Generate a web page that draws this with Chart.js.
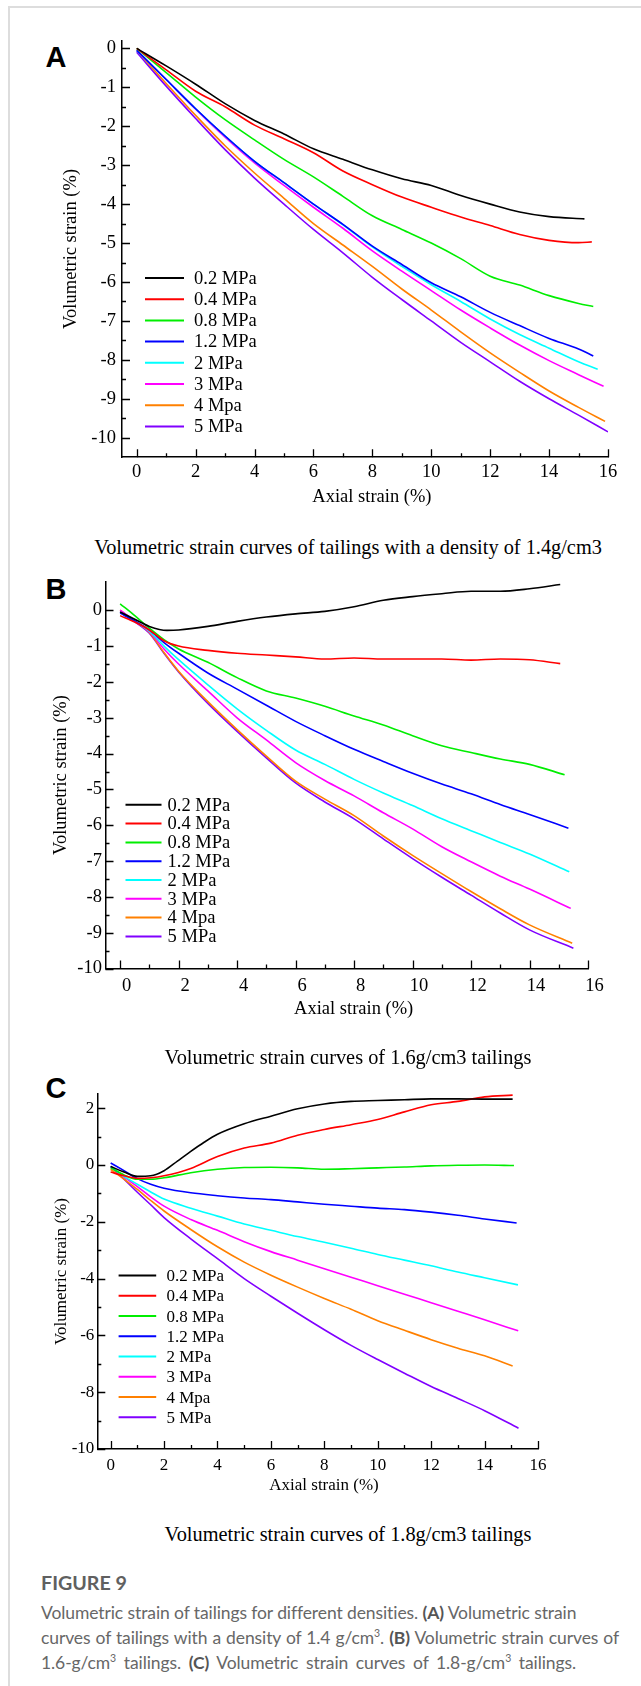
<!DOCTYPE html>
<html>
<head>
<meta charset="utf-8">
<script src="https://cdn.jsdelivr.net/npm/chart.js@4.4.1/dist/chart.umd.min.js"></script>
<style>
  body { margin: 0; background: #fff; }
  #page { position: relative; width: 641px; height: 1686px; overflow: hidden; }
  .frame { position: absolute; left: 8px; top: 6px; width: 700px; height: 1700px;
           border-top: 2px solid #dddddd; border-left: 2px solid #dddddd; }
  canvas { position: absolute; left: 0; }
  .letter { position: absolute; font: bold 29px "Liberation Sans", Arial, sans-serif;
            transform: translate(-50%, -50%); color: #000; }
  .cap { position: absolute; font: 18px "Liberation Serif", "Times New Roman", serif;
         white-space: nowrap; transform: translate(-50%, -50%); color: #000; }
  .fig { position: absolute; left: 41px; font-family: Lato, "Open Sans", sans-serif; color: #676767;
         white-space: nowrap; line-height: 1.2; }
  .fig b { color: #555; }
  sup { font-size: 60%; line-height: 0; }
</style>
</head>
<body>
<div id="page">
  <div class="frame"></div>

  <div class="letter" style="left:56px;top:57px">A</div>
  <canvas id="chartA" width="641" height="520" style="top:0px"></canvas>
  <div class="cap" id="capA" style="left:348px;top:547px">Volumetric strain curves of tailings with a density of 1.4g/cm3</div>

  <div class="letter" style="left:56px;top:589px">B</div>
  <canvas id="chartB" width="641" height="520" style="top:540px"></canvas>
  <div class="cap" id="capB" style="left:348px;top:1057px">Volumetric strain curves of 1.6g/cm3 tailings</div>

  <div class="letter" style="left:56px;top:1088px">C</div>
  <canvas id="chartC" width="641" height="440" style="top:1060px"></canvas>
  <div class="cap" id="capC" style="left:348px;top:1534px">Volumetric strain curves of 1.8g/cm3 tailings</div>

  <div class="fig" id="figTitle" style="top:1571px;font-size:20px;font-weight:bold;color:#606060">FIGURE 9</div>
  <div class="fig" id="fl1" style="top:1602px">Volumetric strain of tailings for different densities. <b>(A)</b> Volumetric strain</div>
  <div class="fig" id="fl2" style="top:1627px">curves of tailings with a density of 1.4 g/cm<sup>3</sup>. <b>(B)</b> Volumetric strain curves of</div>
  <div class="fig" id="fl3" style="top:1652px">1.6-g/cm<sup>3</sup> tailings. <b>(C)</b> Volumetric strain curves of 1.8-g/cm<sup>3</sup> tailings.</div>
</div>

<script>
const SERIF = '"Liberation Serif", "Times New Roman", serif';
Chart.defaults.font.family = SERIF;
Chart.defaults.color = '#000';

const pressures = ['0.2 MPa', '0.4 MPa', '0.8 MPa', '1.2 MPa', '2 MPa', '3 MPa', '4 Mpa', '5 MPa'];
const lineColors = ['#000000', '#ff0000', '#00ee00', '#0000ff', '#00ffff', '#ff00ff', '#ff8000', '#8000ff'];

const xTicks = [0, 2, 4, 6, 8, 10, 12, 14, 16];
const xMinor = [1, 3, 5, 7, 9, 11, 13, 15];
const yTicksAB = [0, -1, -2, -3, -4, -5, -6, -7, -8, -9, -10];
const yMinorAB = [-0.5, -1.5, -2.5, -3.5, -4.5, -5.5, -6.5, -7.5, -8.5, -9.5];
const yTicksC = [2, 0, -2, -4, -6, -8, -10];
const yMinorC = [1, -1, -3, -5, -7, -9];

// A: 1.4 g/cm3  [axial strain %, volumetric strain %]
const A_02 = [[0,0],[1,-0.45],[2,-0.92],[3,-1.42],[4,-1.85],[5,-2.2],[6,-2.58],[7,-2.85],[8,-3.12],[9,-3.35],[10,-3.52],[11,-3.78],[12,-4.0],[13,-4.2],[14,-4.32],[15.2,-4.38]];
const A_04 = [[0,0],[1,-0.55],[2,-1.1],[3,-1.5],[4,-1.97],[5,-2.32],[6,-2.68],[7,-3.15],[8,-3.5],[9,-3.82],[10,-4.08],[11,-4.33],[12,-4.55],[13,-4.78],[14,-4.93],[15,-4.99],[15.45,-4.97]];
const A_08 = [[0,0],[1,-0.62],[2,-1.25],[3,-1.83],[4,-2.35],[5,-2.85],[6,-3.3],[7,-3.8],[8,-4.3],[9,-4.65],[10,-5.0],[11,-5.4],[12,-5.85],[13,-6.08],[14,-6.35],[15,-6.55],[15.5,-6.63]];
const A_12 = [[0,-0.05],[1,-0.8],[2,-1.55],[3,-2.25],[4,-2.9],[5,-3.45],[6,-4.0],[7,-4.52],[8,-5.08],[9,-5.55],[10,-6.02],[11,-6.38],[12,-6.78],[13,-7.12],[14,-7.45],[15,-7.72],[15.5,-7.9]];
const A_2 = [[0,-0.05],[1,-0.8],[2,-1.55],[3,-2.25],[4,-2.9],[5,-3.45],[6,-4.0],[7,-4.53],[8,-5.1],[9,-5.6],[10,-6.07],[11,-6.5],[12,-6.95],[13,-7.35],[14,-7.7],[15,-8.05],[15.65,-8.24]];
const A_3 = [[0,-0.05],[1,-0.8],[2,-1.56],[3,-2.28],[4,-2.94],[5,-3.52],[6,-4.08],[7,-4.62],[8,-5.2],[9,-5.72],[10,-6.22],[11,-6.72],[12,-7.18],[13,-7.62],[14,-8.02],[15,-8.38],[15.85,-8.68]];
const A_4 = [[0,-0.05],[1,-0.9],[2,-1.72],[3,-2.5],[4,-3.2],[5,-3.85],[6,-4.5],[7,-5.05],[8,-5.6],[9,-6.18],[10,-6.72],[11,-7.28],[12,-7.82],[13,-8.32],[14,-8.8],[15,-9.22],[15.9,-9.58]];
const A_5 = [[0,-0.1],[1,-0.97],[2,-1.8],[3,-2.6],[4,-3.33],[5,-4.0],[6,-4.65],[7,-5.25],[8,-5.88],[9,-6.45],[10,-7.0],[11,-7.55],[12,-8.05],[13,-8.55],[14,-9.0],[15,-9.42],[16,-9.85]];

// B: 1.6 g/cm3
const B_02 = [[0,-0.05],[0.5,-0.25],[1,-0.45],[1.6,-0.56],[2,-0.55],[3,-0.45],[4,-0.31],[5,-0.19],[6,-0.1],[7,-0.03],[8,0.1],[9,0.28],[10,0.38],[11,0.46],[12,0.53],[13,0.53],[14,0.6],[15.05,0.72]];
const B_04 = [[0,-0.15],[0.5,-0.33],[1,-0.55],[1.5,-0.85],[2,-1.0],[3,-1.12],[4,-1.2],[5,-1.25],[6,-1.3],[7,-1.36],[8,-1.33],[9,-1.36],[10,-1.36],[11,-1.36],[12,-1.39],[13,-1.36],[14,-1.38],[15.05,-1.49]];
const B_08 = [[0,0.18],[0.5,-0.15],[1,-0.5],[1.5,-0.82],[2,-1.08],[3,-1.45],[4,-1.88],[5,-2.25],[6,-2.45],[7,-2.68],[8,-2.95],[9,-3.2],[10,-3.5],[11,-3.78],[12,-3.97],[13,-4.15],[14,-4.3],[15.2,-4.59]];
const B_12 = [[0,-0.08],[0.5,-0.3],[1,-0.55],[1.5,-0.9],[2,-1.2],[3,-1.75],[4,-2.2],[5,-2.65],[6,-3.1],[7,-3.5],[8,-3.88],[9,-4.22],[10,-4.55],[11,-4.85],[12,-5.12],[13,-5.42],[14,-5.7],[15.33,-6.08]];
const B_2 = [[0,-0.05],[0.5,-0.3],[1,-0.58],[1.5,-1.0],[2,-1.38],[3,-2.08],[4,-2.75],[5,-3.35],[6,-3.9],[7,-4.3],[8,-4.72],[9,-5.1],[10,-5.45],[11,-5.82],[12,-6.15],[13,-6.48],[14,-6.8],[15.36,-7.3]];
const B_3 = [[0,0],[0.5,-0.3],[1,-0.6],[1.5,-1.08],[2,-1.5],[3,-2.25],[4,-3.0],[5,-3.62],[6,-4.25],[7,-4.75],[8,-5.18],[9,-5.65],[10,-6.1],[11,-6.6],[12,-7.02],[13,-7.42],[14,-7.78],[15.41,-8.32]];
const B_4 = [[0,0],[0.5,-0.3],[1,-0.62],[1.5,-1.18],[2,-1.7],[3,-2.55],[4,-3.33],[5,-4.07],[6,-4.77],[7,-5.27],[8,-5.73],[9,-6.3],[10,-6.84],[11,-7.35],[12,-7.85],[13,-8.33],[14,-8.78],[15.46,-9.29]];
const B_5 = [[0,-0.05],[0.5,-0.32],[1,-0.64],[1.5,-1.2],[2,-1.72],[3,-2.6],[4,-3.38],[5,-4.12],[6,-4.82],[7,-5.35],[8,-5.82],[9,-6.38],[10,-6.93],[11,-7.45],[12,-7.95],[13,-8.45],[14,-8.92],[15.5,-9.43]];

// C: 1.8 g/cm3
const C_02 = [[0,-0.05],[0.5,-0.25],[1,-0.4],[1.5,-0.38],[2,-0.2],[2.5,0.14],[3,0.48],[3.5,0.8],[4,1.08],[5,1.45],[6,1.72],[7,1.98],[8,2.15],[9,2.24],[10,2.27],[11,2.3],[12,2.33],[13,2.33],[14,2.32],[15.05,2.32]];
const C_04 = [[0,-0.25],[0.5,-0.38],[1,-0.47],[1.5,-0.45],[2,-0.38],[3,-0.12],[4,0.3],[5,0.6],[6,0.77],[7,1.05],[8,1.25],[9,1.42],[10,1.6],[11,1.87],[12,2.12],[13,2.24],[14,2.4],[15.05,2.46]];
const C_08 = [[0,-0.1],[0.5,-0.35],[1,-0.5],[1.5,-0.5],[2,-0.45],[3,-0.27],[4,-0.15],[5,-0.09],[6,-0.08],[7,-0.1],[8,-0.15],[9,-0.13],[10,-0.1],[11,-0.07],[12,-0.03],[13,-0.01],[14,0],[15.1,-0.02]];
const C_12 = [[0,0.07],[0.5,-0.2],[1,-0.48],[1.5,-0.68],[2,-0.82],[3,-0.98],[4,-1.08],[5,-1.16],[6,-1.22],[7,-1.3],[8,-1.38],[9,-1.45],[10,-1.52],[11,-1.57],[12,-1.66],[13,-1.77],[14,-1.9],[15.2,-2.04]];
const C_2 = [[0,-0.05],[0.5,-0.4],[1,-0.68],[1.5,-0.95],[2,-1.2],[3,-1.52],[4,-1.8],[5,-2.08],[6,-2.3],[7,-2.52],[8,-2.72],[9,-2.93],[10,-3.15],[11,-3.35],[12,-3.55],[13,-3.77],[14,-3.97],[15.25,-4.22]];
const C_3 = [[0,-0.05],[0.5,-0.42],[1,-0.76],[1.5,-1.12],[2,-1.45],[3,-1.92],[4,-2.3],[5,-2.7],[6,-3.05],[7,-3.35],[8,-3.65],[9,-3.95],[10,-4.25],[11,-4.55],[12,-4.85],[13,-5.15],[14,-5.45],[15.26,-5.84]];
const C_4 = [[0,-0.15],[0.5,-0.5],[1,-0.86],[1.5,-1.25],[2,-1.62],[3,-2.27],[4,-2.88],[5,-3.42],[6,-3.88],[7,-4.3],[8,-4.7],[9,-5.08],[10,-5.48],[11,-5.82],[12,-6.15],[13,-6.45],[14,-6.72],[15.05,-7.08]];
const C_5 = [[0,-0.05],[0.5,-0.5],[1,-0.96],[1.5,-1.4],[2,-1.85],[3,-2.6],[4,-3.3],[5,-4.0],[6,-4.62],[7,-5.22],[8,-5.8],[9,-6.35],[10,-6.85],[11,-7.33],[12,-7.8],[13,-8.22],[14,-8.65],[15.27,-9.27]];

// tick marks pointing into the plot, major and minor
const innerTicks = {
  id: 'innerTicks',
  afterDraw(chart, args, o) {
    const { ctx, chartArea: a } = chart;
    const x = chart.scales.x, y = chart.scales.y;
    ctx.save();
    ctx.strokeStyle = '#000';
    ctx.lineWidth = 1.3;
    ctx.beginPath();
    const tx = (vals, len) => vals.forEach(v => {
      const p = Math.round(x.getPixelForValue(v)) + 0.5;
      ctx.moveTo(p, a.bottom); ctx.lineTo(p, a.bottom - len);
    });
    const ty = (vals, len) => vals.forEach(v => {
      const p = Math.round(y.getPixelForValue(v)) + 0.5;
      ctx.moveTo(a.left, p); ctx.lineTo(a.left + len, p);
    });
    tx(o.xMajor, 8); tx(o.xMinor, 4);
    ty(o.yMajor, 8); ty(o.yMinor, 4);
    ctx.stroke();
    ctx.restore();
  }
};

// legend drawn inside the plot area
const inlineLegend = {
  id: 'inlineLegend',
  afterDraw(chart, args, o) {
    const ctx = chart.ctx;
    ctx.save();
    ctx.font = o.size + 'px ' + SERIF;
    ctx.textBaseline = 'middle';
    ctx.fillStyle = '#000';
    chart.data.datasets.forEach((ds, i) => {
      const yy = o.y + i * o.step;
      ctx.strokeStyle = ds.borderColor;
      ctx.lineWidth = 2;
      ctx.beginPath();
      ctx.moveTo(o.x, yy);
      ctx.lineTo(o.x + o.len, yy);
      ctx.stroke();
      ctx.fillText(ds.label, o.textX, yy + 1);
    });
    ctx.restore();
  }
};

function makePanel(id, series, c) {
  const ctx = document.getElementById(id).getContext('2d');
  return new Chart(ctx, {
    type: 'line',
    data: {
      datasets: series.map((s, i) => ({
        label: pressures[i],
        data: s.map(p => ({ x: p[0], y: p[1] })),
        borderColor: lineColors[i],
        borderWidth: 1.6,
        pointRadius: 0,
        cubicInterpolationMode: 'monotone',
        fill: false
      }))
    },
    options: {
      responsive: false,
      animation: false,
      layout: { padding: c.padding },
      plugins: {
        legend: { display: false },
        tooltip: { enabled: false },
        innerTicks: { xMajor: xTicks, xMinor: xMinor, yMajor: c.yTicks, yMinor: c.yMinor },
        inlineLegend: c.legend
      },
      scales: {
        x: {
          type: 'linear',
          min: -0.5,
          max: 16,
          afterFit: s => { s.height = c.xHeight; },
          afterBuildTicks: s => { s.ticks = xTicks.map(v => ({ value: v })); },
          grid: { display: false, drawTicks: false },
          border: { display: true, color: '#000', width: 1.5 },
          ticks: { font: { size: c.tickSize }, padding: c.xPad, labelOffset: c.xLabelOffset, maxRotation: 0, autoSkip: false },
          title: { display: true, text: c.xTitle, font: { size: c.titleSize }, padding: 0 }
        },
        y: {
          type: 'linear',
          min: c.yMin,
          max: c.yMax,
          afterFit: s => { s.width = c.yWidth; },
          afterBuildTicks: s => { s.ticks = c.yTicks.map(v => ({ value: v })); },
          grid: { display: false, drawTicks: false },
          border: { display: true, color: '#000', width: 1.5 },
          ticks: { font: { size: c.tickSize }, padding: c.yPad, autoSkip: false },
          title: { display: true, text: 'Volumetric strain (%)', font: { size: c.titleSize }, padding: 0 }
        }
      }
    },
    plugins: [innerTicks, inlineLegend]
  });
}

makePanel('chartA', [A_02, A_04, A_08, A_12, A_2, A_3, A_4, A_5], {
  padding: { left: 60, top: 40.6, right: 33, bottom: 12.2 },
  xHeight: 50.6, yWidth: 62, yMin: -10.5, yMax: 0.2,
  yTicks: yTicksAB, yMinor: yMinorAB,
  tickSize: 18.5, titleSize: 18.5, xPad: 4, yPad: 6, xLabelOffset: 0,
  xTitle: '\u2002 Axial strain (%)',
  legend: { x: 145, len: 39, textX: 194, y: 278, step: 21.2, size: 18.5 }
});

makePanel('chartB', [B_02, B_04, B_08, B_12, B_2, B_3, B_4, B_5], {
  padding: { left: 50.2, top: 41.6, right: 53, bottom: 39.8 },
  xHeight: 51.6, yWidth: 55.3, yMin: -10, yMax: 0.8,
  yTicks: yTicksAB, yMinor: yMinorAB,
  tickSize: 18.5, titleSize: 18.5, xPad: 6, yPad: 3.5, xLabelOffset: 6.5,
  xTitle: '\u2002 Axial strain (%)',
  legend: { x: 125.5, len: 36, textX: 167.6, y: 264.8, step: 18.8, size: 18.5 }
});

makePanel('chartC', [C_02, C_04, C_08, C_12, C_2, C_3, C_4, C_5], {
  padding: { left: 50.9, top: 34, right: 103, bottom: 4.4 },
  xHeight: 46.6, yWidth: 46.4, yMin: -10, yMax: 2.5,
  yTicks: yTicksC, yMinor: yMinorC,
  tickSize: 17, titleSize: 17, xPad: 6.5, yPad: 3, xLabelOffset: 0,
  xTitle: '\u2002 Axial strain (%)',
  legend: { x: 118.6, len: 37.6, textX: 166.4, y: 215.6, step: 20.25, size: 17 }
});

// fit caption text widths to the reference
function fitWidth(el, w) {
  const cur = el.getBoundingClientRect().width;
  const fs = parseFloat(getComputedStyle(el).fontSize);
  el.style.fontSize = (fs * w / cur) + 'px';
}
fitWidth(document.getElementById('capA'), 508);
fitWidth(document.getElementById('capB'), 367);
fitWidth(document.getElementById('capC'), 367);
fitWidth(document.getElementById('figTitle'), 86);

// figure caption: shared size and letter spacing, each line stretched to its width
const figLines = ['fl1', 'fl2', 'fl3'].map(id => document.getElementById(id));
const figWidths = [535, 578, 535];
figLines.forEach(el => { el.style.fontSize = '17.5px'; el.style.width = 'max-content'; });
const ls = Math.min(...[0, 1].map(i =>
  (figWidths[i] - figLines[i].getBoundingClientRect().width) / figLines[i].textContent.length));
figLines.forEach((el, i) => {
  el.style.letterSpacing = ls + 'px';
  const nat = el.getBoundingClientRect().width;
  const spaces = (el.textContent.match(/ /g) || []).length;
  el.style.wordSpacing = Math.max(0, (figWidths[i] - nat) / spaces) + 'px';
});
</script>
</body>
</html>
